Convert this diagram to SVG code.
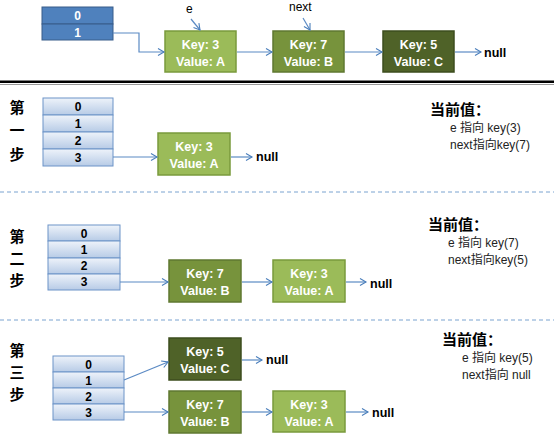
<svg xmlns="http://www.w3.org/2000/svg" width="554" height="435" viewBox="0 0 554 435">
<defs>
<linearGradient id="cellg" x1="0" y1="0" x2="0" y2="1">
<stop offset="0" stop-color="#eef3fa"/>
<stop offset="1" stop-color="#b7cbe6"/>
</linearGradient>
<marker id="arr" markerWidth="10" markerHeight="10" refX="7" refY="4" orient="auto" markerUnits="userSpaceOnUse">
<polyline points="1,0.5 7,4 1,7.5" fill="none" stroke="#4a7ebb" stroke-width="1.1"/>
</marker>
</defs>
<style>
.conn{fill:none;stroke:#5b8ac4;stroke-width:1.2;marker-end:url(#arr)}
.b1{fill:#9bbb59;stroke:#7a9a3c;stroke-width:1.5}
.b2{fill:#77933c;stroke:#5f7830;stroke-width:1.5}
.b3{fill:#4f6228;stroke:#3d4d1e;stroke-width:1.5}
.bt{font-family:"Liberation Sans",Arial,sans-serif;font-weight:bold;font-size:12.5px;fill:#fff;text-anchor:middle}
.cell{fill:url(#cellg);stroke:#6c94c8;stroke-width:1}
.cellD{fill:#4f81bd;stroke:#385d8a;stroke-width:1}
.ct{font-family:"Liberation Sans",Arial,sans-serif;font-weight:bold;font-size:12px;fill:#000;text-anchor:middle}
.ctw{font-family:"Liberation Sans",Arial,sans-serif;font-weight:bold;font-size:12px;fill:#fff;text-anchor:middle}
.nul{font-family:"Liberation Sans",Arial,sans-serif;font-weight:bold;font-size:12.5px;fill:#000}
.lbl{font-family:"Liberation Sans",Arial,sans-serif;font-size:12px;fill:#000}
.step{font-family:"Noto Sans CJK SC",sans-serif;font-weight:bold;font-size:15px;fill:#000;text-anchor:middle}
.cur{font-family:"Noto Sans CJK SC",sans-serif;font-weight:bold;font-size:15px;fill:#000}
.info{font-family:"Liberation Sans","Noto Sans CJK SC",sans-serif;font-size:12px;fill:#222}
.dash{stroke:#7ba3d0;stroke-width:1;stroke-dasharray:4,3}
</style>

<!-- separators -->
<rect x="0" y="80.5" width="554" height="2.5" fill="#000"/>
<line x1="0" y1="84.5" x2="554" y2="84.5" stroke="#999" stroke-width="1"/>
<line class="dash" x1="0" y1="192" x2="554" y2="192"/>
<line class="dash" x1="0" y1="320" x2="554" y2="320"/>

<!-- top section -->
<g id="top-table">
<rect class="cellD" x="42" y="7" width="71" height="17"/>
<rect class="cellD" x="42" y="24" width="71" height="16"/>
<text class="ctw" x="77.5" y="20">0</text>
<text class="ctw" x="77.5" y="36.5">1</text>
</g>
<g id="top-k3"><rect class="b1" x="165" y="31" width="71" height="41"/><text class="bt" x="200.5" y="49">Key: 3</text><text class="bt" x="200.5" y="66">Value: A</text></g>
<g id="top-k7"><rect class="b2" x="273" y="31" width="71" height="41"/><text class="bt" x="308.5" y="49">Key: 7</text><text class="bt" x="308.5" y="66">Value: B</text></g>
<g id="top-k5"><rect class="b3" x="383" y="31" width="71" height="41"/><text class="bt" x="418.5" y="49">Key: 5</text><text class="bt" x="418.5" y="66">Value: C</text></g>
<text class="nul" x="484" y="57">null</text>
<text class="lbl" x="186" y="13">e</text>
<text class="lbl" x="289" y="11">next</text>

<!-- step 1 -->
<text class="step" x="17" y="113">第</text>
<text class="step" x="17" y="136">一</text>
<text class="step" x="17" y="160">步</text>
<g id="s1-table">
<rect class="cell" x="43" y="98" width="70" height="17"/>
<rect class="cell" x="43" y="115" width="70" height="17"/>
<rect class="cell" x="43" y="132" width="70" height="17"/>
<rect class="cell" x="43" y="149" width="70" height="17"/>
<text class="ct" x="78" y="111">0</text>
<text class="ct" x="78" y="128">1</text>
<text class="ct" x="78" y="145">2</text>
<text class="ct" x="78" y="162">3</text>
</g>
<g id="s1-k3"><rect class="b1" x="158" y="133" width="72" height="42"/><text class="bt" x="194" y="151">Key: 3</text><text class="bt" x="194" y="168">Value: A</text></g>
<text class="nul" x="256" y="161">null</text>
<g id="s1-info">
<text class="cur" x="430" y="115">当前值：</text>
<text class="info" x="450" y="132">e  指向 key(3)</text>
<text class="info" x="450" y="149">next指向key(7)</text>
</g>

<!-- step 2 -->
<text class="step" x="17" y="242">第</text>
<text class="step" x="17" y="264">二</text>
<text class="step" x="17" y="286">步</text>
<g id="s2-table">
<rect class="cell" x="48" y="225" width="72" height="16"/>
<rect class="cell" x="48" y="241" width="72" height="17"/>
<rect class="cell" x="48" y="258" width="72" height="16"/>
<rect class="cell" x="48" y="274" width="72" height="16"/>
<text class="ct" x="84" y="237.5">0</text>
<text class="ct" x="84" y="254">1</text>
<text class="ct" x="84" y="270">2</text>
<text class="ct" x="84" y="286">3</text>
</g>
<g id="s2-k7"><rect class="b2" x="169" y="260" width="72" height="42"/><text class="bt" x="205" y="278">Key: 7</text><text class="bt" x="205" y="295">Value: B</text></g>
<g id="s2-k3"><rect class="b1" x="273" y="260" width="72" height="42"/><text class="bt" x="309" y="278">Key: 3</text><text class="bt" x="309" y="295">Value: A</text></g>
<text class="nul" x="370" y="288">null</text>
<g id="s2-info">
<text class="cur" x="428" y="230">当前值：</text>
<text class="info" x="448" y="247">e  指向 key(7)</text>
<text class="info" x="448" y="264">next指向key(5)</text>
</g>

<!-- step 3 -->
<text class="step" x="17" y="356">第</text>
<text class="step" x="17" y="378">三</text>
<text class="step" x="17" y="400">步</text>
<g id="s3-table">
<rect class="cell" x="53" y="356" width="71" height="16"/>
<rect class="cell" x="53" y="372" width="71" height="16"/>
<rect class="cell" x="53" y="388" width="71" height="16"/>
<rect class="cell" x="53" y="404" width="71" height="16"/>
<text class="ct" x="88.5" y="368.5">0</text>
<text class="ct" x="88.5" y="384.5">1</text>
<text class="ct" x="88.5" y="400.5">2</text>
<text class="ct" x="88.5" y="416.5">3</text>
</g>
<g id="s3-k5"><rect class="b3" x="169" y="338" width="72" height="42"/><text class="bt" x="205" y="356">Key: 5</text><text class="bt" x="205" y="373">Value: C</text></g>
<text class="nul" x="266" y="364">null</text>
<g id="s3-k7"><rect class="b2" x="169" y="391" width="72" height="42"/><text class="bt" x="205" y="409">Key: 7</text><text class="bt" x="205" y="426">Value: B</text></g>
<g id="s3-k3"><rect class="b1" x="273" y="391" width="72" height="41"/><text class="bt" x="309" y="409">Key: 3</text><text class="bt" x="309" y="426">Value: A</text></g>
<text class="nul" x="372" y="417">null</text>
<g id="s3-info">
<text class="cur" x="442" y="345">当前值：</text>
<text class="info" x="462" y="362">e  指向 key(5)</text>
<text class="info" x="462" y="379">next指向 null</text>
</g>

<!-- connectors -->
<g id="connectors">
<polyline class="conn" points="113,33 139,33 139,52 164,52"/>
<line class="conn" x1="191" y1="19" x2="200" y2="30"/>
<line class="conn" x1="303" y1="18" x2="310" y2="30"/>
<line class="conn" x1="237" y1="52" x2="272" y2="52"/>
<line class="conn" x1="345" y1="52" x2="382" y2="52"/>
<line class="conn" x1="455" y1="52" x2="481" y2="52"/>

<line class="conn" x1="113" y1="157" x2="157" y2="157"/>
<line class="conn" x1="231" y1="157" x2="252" y2="157"/>

<line class="conn" x1="120" y1="282" x2="168" y2="282"/>
<line class="conn" x1="242" y1="282" x2="272" y2="282"/>
<line class="conn" x1="346" y1="282" x2="366" y2="282"/>

<line class="conn" x1="124" y1="380" x2="168" y2="362"/>
<line class="conn" x1="242" y1="360" x2="262" y2="360"/>
<line class="conn" x1="124" y1="412" x2="168" y2="412"/>
<line class="conn" x1="242" y1="412" x2="272" y2="412"/>
<line class="conn" x1="346" y1="412" x2="368" y2="412"/>
</g>
</svg>
